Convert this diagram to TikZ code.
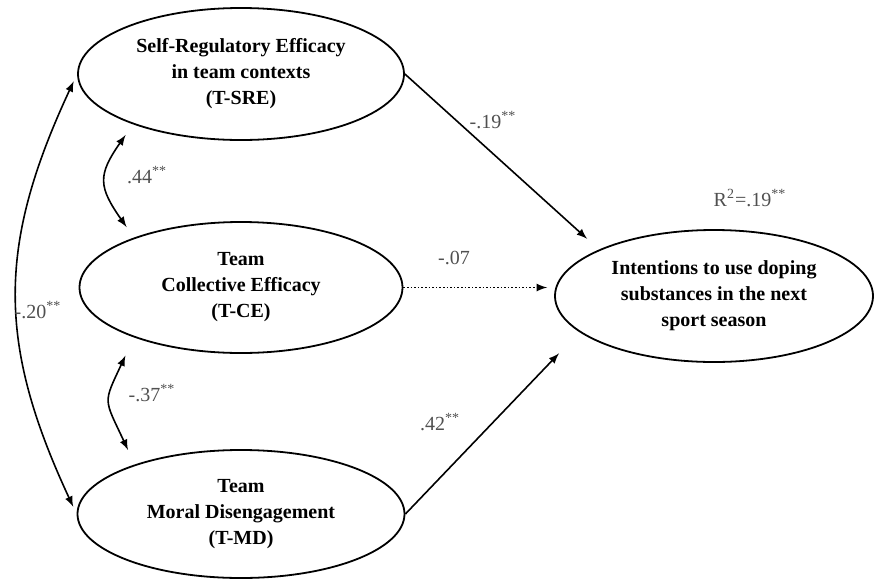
\documentclass[tikz,border=0pt]{standalone}
\usepackage{fontspec}
\setmainfont{Liberation Serif}
\usetikzlibrary{shapes.geometric}
\definecolor{coefgray}{RGB}{80,80,80}

\begin{document}
\begin{tikzpicture}[x=0.5pt,y=0.5pt,>=latex,
  latent/.style={ellipse,draw,line width=0.9pt,inner sep=0pt,align=center,font=\fontsize{10}{13}\selectfont\bfseries},
  coef/.style={text=coefgray,inner sep=0pt}]
\useasboundingbox (0,0) rectangle (874,-579);
% latent variables
\node [latent,minimum width=163pt,minimum height=66pt] (sre) at (241,-74) {Self-Regulatory Efficacy\\in team contexts\\(T-SRE)};
\node [latent,minimum width=161.5pt,minimum height=65.5pt] (ce) at (241,-287.5) {Team\\Collective Efficacy\\(T-CE)};
\node [latent,minimum width=163.5pt,minimum height=64pt] (md) at (241,-514) {Team\\Moral Disengagement\\(T-MD)};
\node [latent,minimum width=159pt,minimum height=66pt] (out) at (714,-296) {Intentions to use doping\\substances in the next\\sport season};

% paths
\draw [thick,->,shorten >=8pt] (sre.east) -- (out.158);
\draw [thick,densely dotted,->,shorten >=3.5pt] (ce.east) -- (ce.east -| out.west);
\draw [thick,->,shorten >=14.7pt] (md.east) -- (out.195);

% correlations
\draw [thick,<->,shorten <=6.5pt,shorten >=6.4pt] (sre.205) to[out=235,in=125,looseness=1.4] (ce.155);
\draw [thick,<->,shorten <=10pt,shorten >=8pt] (ce.205) to[out=245,in=115,looseness=1.48] (md.155);
\draw [thick,<->,shorten <=4pt,shorten >=4pt] (sre.west) to[out=245,in=115,looseness=1.1] (md.west);

% coefficients
\node [coef] (c44) at (147,-175) {.44\textsuperscript{**}};
\node [coef] (c37) at (152,-393) {-.37\textsuperscript{**}};
\node [coef] (c20) at (38,-310) {-.20\textsuperscript{**}};
\node [coef] (c19) at (493,-120) {-.19\textsuperscript{**}};
\node [coef] (c07) at (454,-258) {-.07};
\node [coef] (c42) at (440,-422) {.42\textsuperscript{**}};
\node [coef] (rsq) at (750,-198) {R\textsuperscript{2}=.19\textsuperscript{**}};

\end{tikzpicture}
\end{document}
